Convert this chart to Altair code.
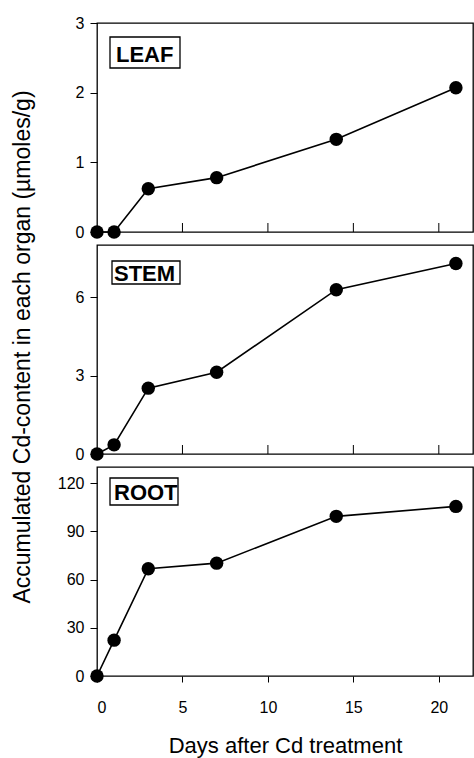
import altair as alt
import pandas as pd

days = [0, 1, 3, 7, 14, 21]
leaf = [0, 0, 0.62, 0.78, 1.33, 2.07]
stem = [0, 0.35, 2.52, 3.13, 6.29, 7.29]
root = [0, 22.3, 66.7, 70.2, 99.3, 105.5]

x_ticks = [0, 5, 10, 15, 20]
inner_ticks = [5, 10, 15, 20]
leaf_ticks = [0, 1, 2, 3]
stem_ticks = [0, 3, 6]
root_ticks = [0, 30, 60, 90, 120]

FONT = "Liberation Sans"
W = 376
H = 209
XDOM = [0, 22]


def panel(vals, name, ydom, yticks, box, text_pos, bottom=False, ytitle=None):
    df = pd.DataFrame({"day": days, "v": vals})
    xscale = alt.Scale(domain=XDOM, nice=False, zero=False)
    if bottom:
        xaxis = alt.Axis(values=x_ticks, title="Days after Cd treatment", grid=False,
                         labelFontSize=16, titleFontSize=22, titleFontWeight="normal",
                         tickSize=6, labelPadding=17, titlePadding=20, domain=False,
                         labelFont=FONT, titleFont=FONT, labelColor="black",
                         titleColor="black", tickColor="black", format="d")
    else:
        xaxis = None
    yaxis_kw = dict(values=yticks, grid=False, labelFontSize=16, tickSize=7,
                    labelPadding=6, domain=False, labelFont=FONT, labelColor="black",
                    tickColor="black", format="d")
    if ytitle:
        yaxis = alt.Axis(title=ytitle, titleFontSize=23, titleFont=FONT,
                         titleFontWeight="normal", titleColor="black",
                         titleX=-75, titleY=H / 2 - 3, titleAngle=-90,
                         titleAlign="center", titleBaseline="middle", **yaxis_kw)
    else:
        yaxis = alt.Axis(title=None, **yaxis_kw)
    yscale = alt.Scale(domain=ydom, nice=False)
    base = alt.Chart(df).encode(
        x=alt.X("day:Q", scale=xscale, axis=xaxis),
        y=alt.Y("v:Q", scale=yscale, axis=yaxis),
    )
    line = base.mark_line(color="black", strokeWidth=1.6, clip=False)
    pts = base.mark_circle(size=180, color="black", opacity=1, clip=False)

    lab = pd.DataFrame({"name": [name]})
    rect = alt.Chart(lab).mark_rect(fill="white", stroke="black", strokeWidth=1.3).encode(
        x=alt.value(box[0]), x2=alt.value(box[1]),
        y=alt.value(box[2]), y2=alt.value(box[3]),
    )
    txt = alt.Chart(lab).mark_text(
        font=FONT, fontSize=22, fontWeight="bold", align="left",
        baseline="alphabetic", color="black"
    ).encode(x=alt.value(text_pos[0]), y=alt.value(text_pos[1]), text="name:N")

    layers = [line, pts, rect, txt]
    if not bottom:
        tdf = pd.DataFrame({"day": inner_ticks})
        ticks = alt.Chart(tdf).mark_rule(color="black", strokeWidth=1).encode(
            x=alt.X("day:Q", scale=xscale, axis=None),
            y=alt.value(H), y2=alt.value(H - 9),
        )
        layers.append(ticks)
    return alt.layer(*layers).properties(width=W, height=H)


p_leaf = panel(leaf, "LEAF", [0, 3], leaf_ticks, (13, 83, 14, 45), (19, 39))
p_stem = panel(stem, "STEM", [0, 8], stem_ticks, (15, 83, 16, 39), (17, 36),
               ytitle="Accumulated Cd-content in each organ (\u00b5moles/g)")
p_root = panel(root, "ROOT", [0, 130], root_ticks, (13, 81, 11, 38), (17, 33), bottom=True)

chart = alt.vconcat(p_leaf, p_stem, p_root, spacing=13, bounds="flush").properties(
    padding={"left": 10, "top": 14, "right": 0, "bottom": 2},
    background="white",
).configure_view(
    stroke="black", strokeWidth=1.3
)

chart.save("out.html", embed_options={"renderer": "svg", "actions": False})
